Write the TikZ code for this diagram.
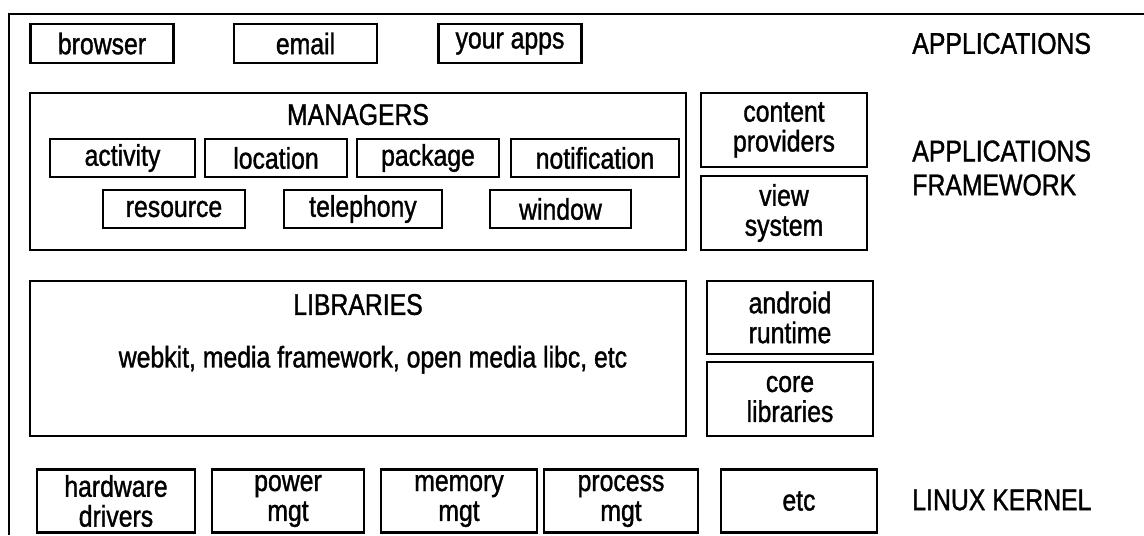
\documentclass[tikz,border=0pt]{standalone}
\usepackage{fontspec}
\setmainfont{Liberation Sans}[FakeStretch=0.83,FakeBold=1.2]
\usetikzlibrary{positioning}
\tikzset{
  block/.style={rectangle,draw=black,line width=1.6pt,inner sep=0pt,align=center,
    font=\fontsize{17}{17}\selectfont},
  appbox/.style={block,minimum width=2.86cm,minimum height=0.78cm},
  mgrbox/.style={block,minimum height=0.76cm},
  sidebox/.style={block,minimum width=3.32cm,minimum height=1.48cm},
  bigbox/.style={block,minimum width=13.12cm},
  kernbox/.style={block,minimum height=1.26cm},
  boxtitle/.style={inner sep=0pt,font=\fontsize{17}{17}\selectfont},
  layerlabel/.style={anchor=west,inner sep=0pt,align=left,font=\fontsize{17}{19.3}\selectfont}
}
\begin{document}
\begin{tikzpicture}[x=0.02cm,y=-0.02cm]
\useasboundingbox (0,0) rectangle (1144,535);
\draw [line width=1.6pt] (9,535) -- (9,14) -- (1144,14); % frame
% applications
\node at (102,43.5) (browser) [appbox] {browser};
\node at (305.5,43.5) (email) [appbox] {email};
\node at (510,43.5) (yourapps) [appbox] {your apps};
\node at (912,43.5) (appslbl) [layerlabel] {APPLICATIONS};
% applications framework
\node at (358,171.5) (managers) [bigbox, minimum height=3.14cm] {};
\node (mgrtitle) [boxtitle, below=0.24cm of managers.north] {MANAGERS};
\node at (122.5,158) (activity) [mgrbox, minimum width=2.9cm] {activity};
\node at (276,158) (location) [mgrbox, minimum width=2.84cm] {location};
\node at (428,158) (package) [mgrbox, minimum width=2.84cm] {package};
\node at (595,158) (notification) [mgrbox, minimum width=3.36cm] {notification};
\node at (174,209) (resource) [mgrbox, minimum width=2.84cm] {resource};
\node at (363,209) (telephony) [mgrbox, minimum width=3.16cm] {telephony};
\node at (560.5,209) (window) [mgrbox, minimum width=2.82cm] {window};
\node at (784,130) (content) [sidebox] {content\\providers};
\node at (784,213) (viewsys) [sidebox] {view\\system};
\node at (912,168) (fwlbl) [layerlabel] {APPLICATIONS\\FRAMEWORK};
% libraries and runtime
\node at (358,358.5) (libraries) [bigbox, minimum height=3.1cm] {};
\node (libtitle) [boxtitle, below=0.28cm of libraries.north] {LIBRARIES};
\node (libtext) [boxtitle, below=0.6cm of libtitle, xshift=0.3cm] {webkit, media framework, open media libc, etc};
\node at (790,317.5) (android) [sidebox, minimum height=1.46cm] {android\\runtime};
\node at (790,399) (corelibs) [sidebox] {core\\libraries};
% linux kernel
\node at (116,501) (hwdrivers) [kernbox, minimum width=3.16cm] {hardware\\drivers};
\node at (288,501) (powermgt) [kernbox, minimum width=3.04cm] {power\\mgt};
\node at (459,501) (memmgt) [kernbox, minimum width=3.12cm] {memory\\mgt};
\node at (621,501) (procmgt) [kernbox, minimum width=3.08cm] {process\\mgt};
\node at (799,501) (kernetc) [kernbox, minimum width=3.12cm] {etc};
\node at (912,500) (kernlbl) [layerlabel] {LINUX KERNEL};
\end{tikzpicture}
\end{document}
